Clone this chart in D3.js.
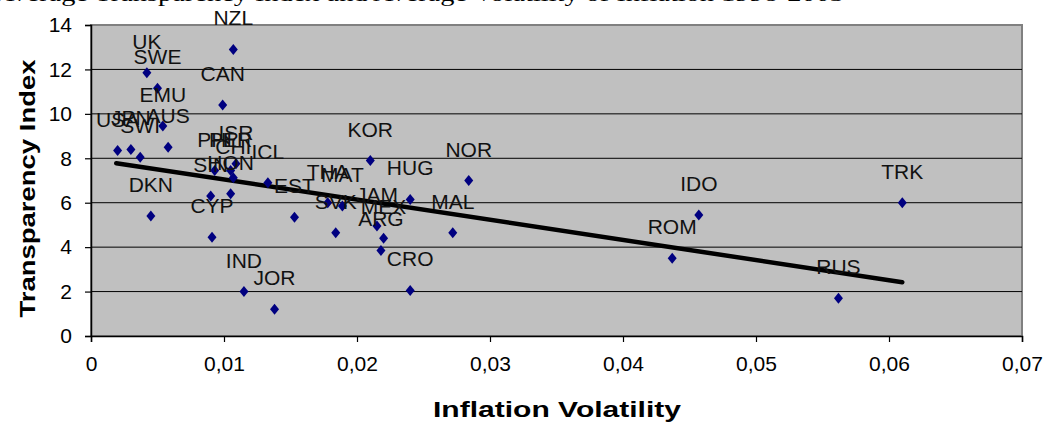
<!DOCTYPE html>
<html>
<head>
<meta charset="utf-8">
<script src="https://cdn.jsdelivr.net/npm/d3@7"></script>
<style>
  html, body { margin: 0; padding: 0; background: #fff; }
  svg { display: block; }
  text { font-family: "Liberation Sans", Arial, sans-serif; }
</style>
</head>
<body>
<svg id="chart" width="1045" height="422"></svg>
<script>
const titleText = "Average Transparency Index and Average Volatility of Inflation 1998-2003";
const countries = ["NZL","UK","SWE","CAN","EMU","AUS","USA","JPN","SWI","DKN","CYP","SIN","HON","PHI","PER","CHI","ISR","ICL","EST","THA","MAT","SVK","KOR","JAM","MEX","ARG","HUG","NOR","MAL","IND","JOR","CRO","IDO","TRK","ROM","RUS"];
const volatility = [0.0107,0.0042,0.0050,0.0099,0.0054,0.0058,0.0020,0.0030,0.0037,0.0045,0.0091,0.0090,0.0105,0.0093,0.0105,0.0107,0.0109,0.0133,0.0153,0.0178,0.0189,0.0184,0.0210,0.0215,0.0220,0.0218,0.0240,0.0284,0.0272,0.0115,0.0138,0.0240,0.0457,0.0610,0.0437,0.0562];
const transparency = [12.9,11.85,11.15,10.4,9.45,8.5,8.35,8.4,8.05,5.4,4.45,6.3,6.4,7.45,7.45,7.12,7.75,6.9,5.35,6.0,5.85,4.65,7.9,4.95,4.4,3.85,6.15,7.0,4.65,2.0,1.2,2.05,5.45,6.0,3.5,1.7];
const trendX = [0.0019, 0.0610];
const trendY = [7.78, 2.42];
const xTicks = [0,0.01,0.02,0.03,0.04,0.05,0.06,0.07];
const xTickLabels = ["0","0,01","0,02","0,03","0,04","0,05","0,06","0,07"];
const yTicks = [0,2,4,6,8,10,12,14];
const xTitle = "Inflation Volatility";
const yTitle = "Transparency Index";

const svg = d3.select("#chart");
const L = 91, R = 1022, T = 25, B = 336;
const x = d3.scaleLinear().domain([0, 0.07]).range([L, R]);
const y = d3.scaleLinear().domain([0, 14]).range([B, T]);

// clipped title at top
svg.append("text")
  .attr("x", -6).attr("y", 0.5)
  .attr("textLength", 850).attr("lengthAdjust", "spacingAndGlyphs")
  .style("font-family", "'Liberation Serif', 'Times New Roman', serif")
  .style("font-size", "20px").attr("fill", "#000")
  .text(titleText);

// plot area
svg.append("rect").attr("x", L).attr("y", T).attr("width", R - L).attr("height", B - T)
  .attr("fill", "#c0c0c0").attr("stroke", "#808080").attr("stroke-width", 2);

// gridlines
svg.append("g").selectAll("line").data(yTicks.filter(d => d > 0 && d < 14)).join("line")
  .attr("x1", L).attr("x2", R).attr("y1", d => y(d)).attr("y2", d => y(d))
  .attr("stroke", "#000").attr("stroke-width", 1);

// axes
const yAxis = svg.append("g").attr("transform", `translate(${L},0)`)
  .call(d3.axisLeft(y).tickValues(yTicks).tickSize(6).tickPadding(13).tickFormat(d3.format("d")));
const xAxis = svg.append("g").attr("transform", `translate(0,${B})`)
  .call(d3.axisBottom(x).tickValues(xTicks).tickSize(6).tickPadding(14).tickFormat((d, i) => xTickLabels[i]));
[yAxis, xAxis].forEach(g => {
  g.select(".domain").attr("stroke", "#000").attr("stroke-width", 1.5);
  g.selectAll(".tick line").attr("stroke", "#000").attr("stroke-width", 1.2);
  g.selectAll(".tick text").style("font-family", "'Liberation Sans', Arial, sans-serif")
    .style("font-size", "21px").attr("fill", "#000");
});

// trend line
svg.append("line")
  .attr("x1", x(trendX[0])).attr("y1", y(trendY[0]))
  .attr("x2", x(trendX[1])).attr("y2", y(trendY[1]))
  .attr("stroke", "#000").attr("stroke-width", 4.5).attr("stroke-linecap", "round");

const pts = countries.map((c, i) => ({c, v: volatility[i], t: transparency[i]}));

// diamonds
svg.append("g").selectAll("path").data(pts).join("path")
  .attr("d", d => { const cx = x(d.v), cy = y(d.t); return `M${cx},${cy-5.5}L${cx+4.5},${cy}L${cx},${cy+5.5}L${cx-4.5},${cy}Z`; })
  .attr("fill", "#000080");

// labels
svg.append("g").selectAll("text").data(pts).join("text")
  .attr("x", d => x(d.v)).attr("y", d => y(d.t) - 24)
  .attr("text-anchor", "middle")
  .style("font-size", "21px").attr("fill", "#111")
  .text(d => d.c);

// axis titles
svg.append("text")
  .attr("transform", `translate(35,${(T + B) / 2 + 8}) rotate(-90)`)
  .attr("text-anchor", "middle")
  .attr("textLength", 258).attr("lengthAdjust", "spacingAndGlyphs")
  .style("font-size", "22px").style("font-weight", "bold").attr("fill", "#000")
  .text(yTitle);
svg.append("text")
  .attr("x", 557).attr("y", 417)
  .attr("text-anchor", "middle")
  .attr("textLength", 248).attr("lengthAdjust", "spacingAndGlyphs")
  .style("font-size", "22px").style("font-weight", "bold").attr("fill", "#000")
  .text(xTitle);
</script>
</body>
</html>
